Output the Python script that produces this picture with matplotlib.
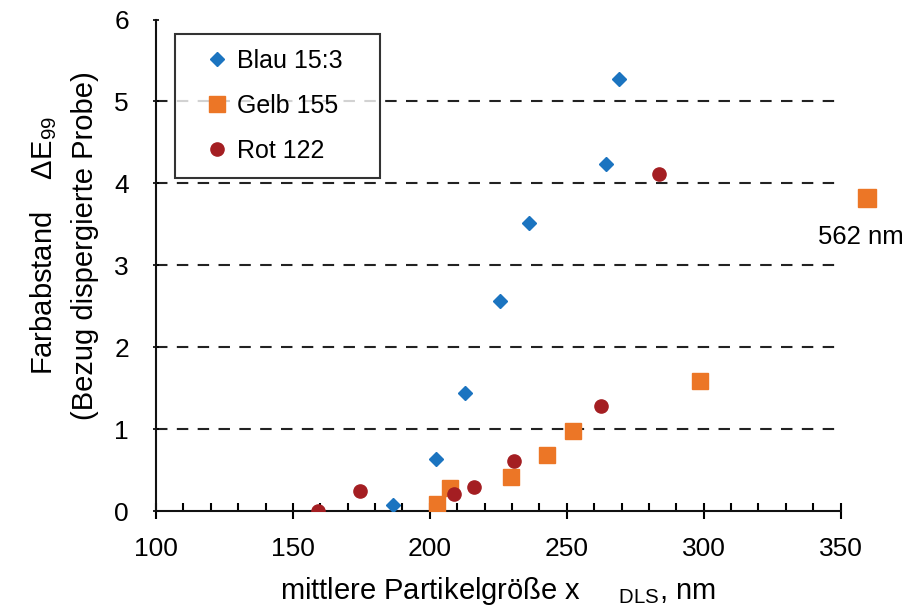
import matplotlib
matplotlib.use('Agg')
import matplotlib.pyplot as plt
from matplotlib.ticker import MultipleLocator

plt.rcParams['font.family'] = ['Liberation Sans', 'DejaVu Sans']
plt.rcParams['mathtext.fontset'] = 'custom'
plt.rcParams['mathtext.rm'] = 'Liberation Sans'
plt.rcParams['mathtext.it'] = 'Liberation Sans'

# Blau 15:3
blau_x = [186.4, 202.4, 212.8, 225.6, 236.3, 264.5, 269.2]
blau_y = [0.07, 0.63, 1.44, 2.56, 3.52, 4.24, 5.28]
# Gelb 155
gelb_x = [202.6, 207.3, 229.8, 242.7, 252.3, 298.5]
gelb_y = [0.09, 0.28, 0.42, 0.68, 0.98, 1.59]
# outlier drawn at the right edge (real value 562 nm)
gelb_out_x = [359.5]
gelb_out_y = [3.82]
gelb_out_label = "562 nm"
# Rot 122
rot_x = [159.3, 174.4, 208.9, 216.1, 230.8, 262.4, 283.5]
rot_y = [0.0, 0.24, 0.21, 0.29, 0.61, 1.28, 4.12]

grid_levels = [1, 2, 3, 4, 5]

blue = '#1b74c0'
orange = '#ec7626'
red = '#a41e22'

fig = plt.figure(figsize=(9.14, 6.12), dpi=100)
ax = fig.add_axes([0.1707, 0.165, 0.749, 0.803])

for g in grid_levels:
    ax.axhline(g, color='#222222', lw=1.5, ls=(0, (5.5, 4.5)), zorder=1)

ax.plot(blau_x, blau_y, ls='none', marker='D', ms=7.5, color=blue, label='Blau 15:3', zorder=3)
ax.plot(gelb_x, gelb_y, ls='none', marker='s', ms=11, color=orange, label='Gelb 155', zorder=3)
ax.plot(gelb_out_x, gelb_out_y, ls='none', marker='s', ms=13, color=orange, zorder=3, clip_on=False)
ax.plot(rot_x, rot_y, ls='none', marker='o', ms=9.5, color=red, label='Rot 122', zorder=4)

ax.text(gelb_out_x[0] - 2, gelb_out_y[0] - 0.48, gelb_out_label, fontsize=18.5,
        ha='center', va='center')

ax.set_xlim(100, 350)
ax.set_ylim(0, 6)
ax.xaxis.set_major_locator(MultipleLocator(50))
ax.xaxis.set_minor_locator(MultipleLocator(10))
ax.yaxis.set_major_locator(MultipleLocator(1))

for s in ['top', 'right']:
    ax.spines[s].set_visible(False)
for s in ['left', 'bottom']:
    ax.spines[s].set_linewidth(1.5)
    ax.spines[s].set_color('#111111')

ax.tick_params(axis='x', which='major', direction='inout', length=12, width=1.5,
               labelsize=19, pad=13)
ax.tick_params(axis='x', which='minor', direction='in', length=6, width=1.5)
ax.tick_params(axis='y', which='major', direction='inout', length=5, width=1.2,
               labelsize=19, pad=17)

ax.set_xlabel('mittlere Partikelgröße x $\\quad\\;{}_{\\mathrm{DLS}}$, nm', fontsize=21,
              labelpad=10)
ax.set_ylabel('Farbabstand    ΔE$_{99}$\n(Bezug dispergierte Probe)', fontsize=21,
              linespacing=1.55)
ax.yaxis.set_label_coords(-0.083, 0.54)

leg = ax.legend(loc='upper left', bbox_to_anchor=(0.0277, 0.9715, 0.299, 0.0),
                mode='expand', borderaxespad=0, fontsize=18, frameon=True,
                fancybox=False, labelspacing=0.85, handletextpad=-0.3,
                borderpad=0.6, handlelength=2.2)
leg.get_frame().set_edgecolor('black')
leg.get_frame().set_linewidth(1.5)

fig.savefig('out.png', dpi=100)
